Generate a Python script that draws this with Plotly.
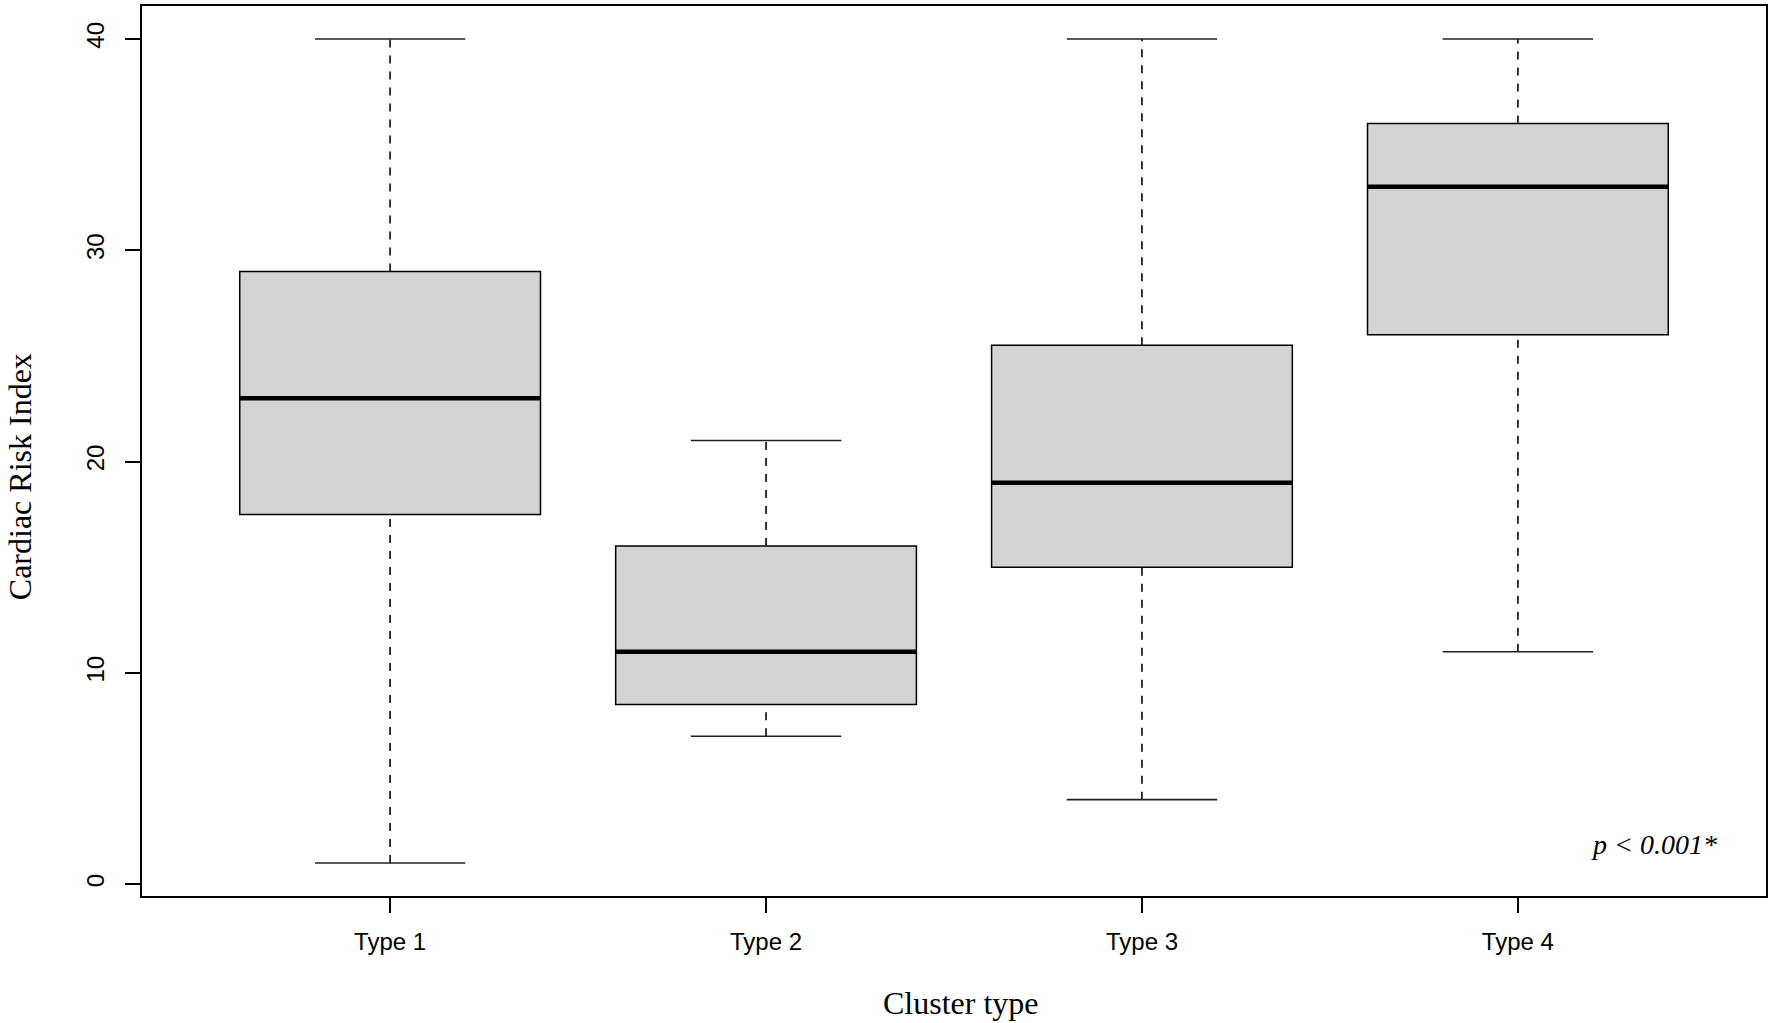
import plotly.graph_objects as go

# box statistics
clusters = ["Type 1", "Type 2", "Type 3", "Type 4"]
positions = [1, 2, 3, 4]
lower = [1, 7, 4, 11]
q1 = [17.5, 8.5, 15, 26]
median = [23, 11, 19, 33]
q3 = [29, 16, 25.5, 36]
upper = [40, 21, 40, 40]

box_w = 0.8
cap_w = 0.4
serif = "Liberation Serif, Times New Roman, serif"
sans = "Liberation Sans, Arial, sans-serif"

fig = go.Figure()

# boxes (whiskers drawn separately so they can be dashed)
fig.add_trace(go.Box(
    x=positions, q1=q1, median=median, q3=q3,
    lowerfence=q1, upperfence=q3,
    width=box_w, whiskerwidth=0, boxpoints=False,
    fillcolor="#d3d3d3", line=dict(color="black", width=1.5),
    hoverinfo="skip", showlegend=False,
))

# dashed whiskers
wx, wy = [], []
for p, lo, a, b, hi in zip(positions, lower, q1, q3, upper):
    wx += [p, p, None, p, p, None]
    wy += [lo, a, None, b, hi, None]
fig.add_trace(go.Scatter(x=wx, y=wy, mode="lines",
                         line=dict(color="#222", width=1.8, dash="8px,8px"),
                         hoverinfo="skip", showlegend=False))

# whisker caps
cx, cy = [], []
for p, lo, hi in zip(positions, lower, upper):
    cx += [p - cap_w / 2, p + cap_w / 2, None, p - cap_w / 2, p + cap_w / 2, None]
    cy += [lo, lo, None, hi, hi, None]
fig.add_trace(go.Scatter(x=cx, y=cy, mode="lines",
                         line=dict(color="#222", width=1.6),
                         hoverinfo="skip", showlegend=False))

# thick median lines
mx, my = [], []
for p, m in zip(positions, median):
    mx += [p - box_w / 2, p + box_w / 2, None]
    my += [m, m, None]
fig.add_trace(go.Scatter(x=mx, y=my, mode="lines",
                         line=dict(color="black", width=4.5),
                         hoverinfo="skip", showlegend=False))

fig.add_annotation(x=4.536, y=1.9, xref="x", yref="y", text="<i>p < 0.001*</i>",
                   showarrow=False, xanchor="right", yanchor="middle",
                   font=dict(family=serif, size=28, color="black"))
fig.add_annotation(x=-0.0755, y=0.471, xref="paper", yref="paper",
                   text="Cardiac Risk Index", textangle=-90, showarrow=False,
                   xanchor="center", yanchor="middle",
                   font=dict(family=serif, size=32, color="black"))
fig.add_annotation(x=0.5045, y=-0.12, xref="paper", yref="paper",
                   text="Cluster type", showarrow=False,
                   xanchor="center", yanchor="middle",
                   font=dict(family=serif, size=32, color="black"))

axis_style = dict(showline=True, mirror=True, linecolor="black", linewidth=1.5,
                  ticks="outside", ticklen=15, tickwidth=1.5, tickcolor="black",
                  showgrid=False, zeroline=False,
                  tickfont=dict(family=sans, size=24, color="black"))

fig.update_layout(
    width=1772, height=1023,
    margin=dict(l=142, r=4, t=4, b=127),
    plot_bgcolor="white", paper_bgcolor="white",
    xaxis=dict(range=[0.34, 4.66], tickvals=positions, ticktext=clusters,
               ticklabelstandoff=8, **axis_style),
    yaxis=dict(range=[-0.56, 41.56], tickvals=[0, 10, 20, 30, 40], tickangle=-90,
               ticklabelstandoff=12, **axis_style),
)

# drop the page's default body margin so the figure sits at the window corner
fig.write_html("out.html", config={"displayModeBar": False},
               post_script="document.body.style.margin='0';")
